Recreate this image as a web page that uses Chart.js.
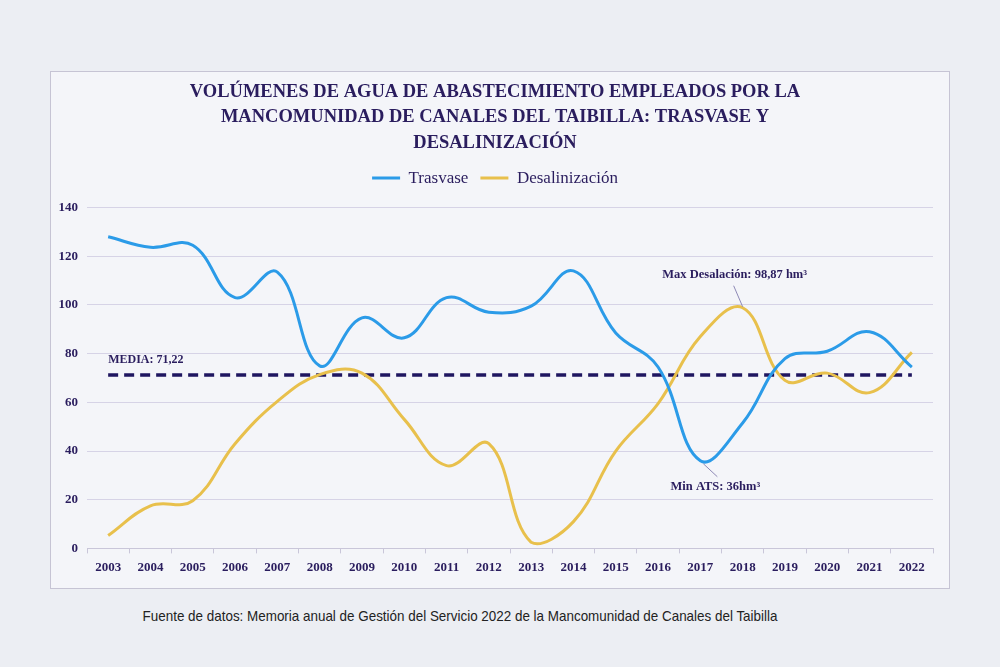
<!DOCTYPE html>
<html>
<head>
<meta charset="utf-8">
<script src="https://cdn.jsdelivr.net/npm/chart.js@4"></script>
<style>
body { margin: 0; width: 1000px; height: 667px; background: #eceef3; position: relative; overflow: hidden; }
#frame { position: absolute; left: 50px; top: 71px; width: 900px; height: 518px; border: 1px solid #c6c4d4; background: #f4f5f9; box-sizing: border-box; }
#source { position: absolute; left: 0; width: 920px; top: 607px; text-align: center; font-family: "Liberation Sans Narrow", "Liberation Sans", sans-serif; font-size: 15px; color: #222; transform: scaleX(0.895); transform-origin: 460px 0; }
</style>
</head>
<body>
<div id="frame"><canvas id="waterChart"></canvas></div>
<div id="source">Fuente de datos: Memoria anual de Gestión del Servicio 2022 de la Mancomunidad de Canales del Taibilla</div>
<script>
const years = ['2003', '2004', '2005', '2006', '2007', '2008', '2009', '2010', '2011', '2012',
               '2013', '2014', '2015', '2016', '2017', '2018', '2019', '2020', '2021', '2022'];
const trasvase = [128, 123.7, 124.5, 103, 113.5, 75, 94.7, 86.5, 103, 97,
                  99.5, 114, 88.5, 74.5, 36, 51.5, 78, 81, 89, 74.5];
const desalinizacion = [5.3, 17.5, 19.6, 43, 60.4, 71.4, 72, 53, 34, 43,
                        2.5, 11, 40, 59.5, 87, 98.87, 69, 72, 64, 80.5];
const media = 71.22;
const yTicks = [0, 20, 40, 60, 80, 100, 120, 140];

const textColor = '#2a1d5e';
const serif = '"Liberation Serif", "DejaVu Serif", serif';

// extra room between legend and plot
const legendGap = {
    id: 'legendGap',
    beforeInit(chart) {
        const fit = chart.legend.fit;
        chart.legend.fit = function () {
            fit.call(this);
            this.height += 11;
        };
    }
};

const notes = {
    id: 'notes',
    afterDatasetsDraw(chart) {
        const ctx = chart.ctx;
        const xs = chart.scales.x, ys = chart.scales.y;
        ctx.save();
        ctx.fillStyle = textColor;
        ctx.textBaseline = 'middle';

        // media label
        ctx.font = 'bold 12px ' + serif;
        ctx.textAlign = 'left';
        ctx.fillText('MEDIA: 71,22', xs.getPixelForValue(0), ys.getPixelForValue(media) - 15);

        ctx.font = 'bold 12.5px ' + serif;
        ctx.textAlign = 'center';
        ctx.strokeStyle = '#8d88b5';
        ctx.lineWidth = 1;

        // max desalinizacion
        let i = years.indexOf('2018');
        let px = xs.getPixelForValue(i), py = ys.getPixelForValue(desalinizacion[i]);
        ctx.beginPath();
        ctx.moveTo(px - 9, py - 22);
        ctx.lineTo(px, py - 1);
        ctx.stroke();
        ctx.fillText('Max Desalación: 98,87 hm³', px - 8, py - 33);

        // min trasvase
        i = years.indexOf('2017');
        px = xs.getPixelForValue(i); py = ys.getPixelForValue(trasvase[i]);
        ctx.beginPath();
        ctx.moveTo(px + 3, py + 3);
        ctx.lineTo(px + 17, py + 16);
        ctx.stroke();
        ctx.fillText('Min ATS: 36hm³', px + 15, py + 26);
        ctx.restore();
    }
};

const ctx = document.getElementById('waterChart').getContext('2d');
const waterChart = new Chart(ctx, {
    type: 'line',
    data: {
        labels: years,
        datasets: [{
            label: 'Trasvase',
            data: trasvase,
            borderColor: '#2b9be8',
            backgroundColor: '#2b9be8',
            borderWidth: 3,
            pointRadius: 0,
            tension: 0.4
        }, {
            label: 'Desalinización',
            data: desalinizacion,
            borderColor: '#e8c04c',
            backgroundColor: '#e8c04c',
            borderWidth: 3,
            pointRadius: 0,
            tension: 0.4
        }, {
            label: 'Media',
            data: years.map(() => media),
            borderColor: '#1f1660',
            borderWidth: 3.5,
            borderDash: [10, 6],
            pointRadius: 0,
            tension: 0
        }]
    },
    options: {
        responsive: true,
        maintainAspectRatio: false,
        animation: false,
        layout: {
            padding: { left: 6, right: 16, top: 4, bottom: 7 }
        },
        plugins: {
            title: {
                display: true,
                text: ['VOLÚMENES DE AGUA DE ABASTECIMIENTO EMPLEADOS POR LA',
                       'MANCOMUNIDAD DE CANALES DEL TAIBILLA: TRASVASE Y',
                       'DESALINIZACIÓN'],
                color: textColor,
                font: { family: serif, size: 18.5, weight: 'bold', lineHeight: 1.38 },
                padding: { top: 3, bottom: 2 }
            },
            legend: {
                position: 'top',
                labels: {
                    color: textColor,
                    font: { family: serif, size: 17 },
                    boxWidth: 28,
                    boxHeight: 3,
                    padding: 12,
                    filter: item => item.text !== 'Media',
                    generateLabels: chart => Chart.defaults.plugins.legend.labels.generateLabels(chart)
                        .map(l => Object.assign(l, { lineWidth: 0 }))
                }
            },
            tooltip: { enabled: false }
        },
        scales: {
            x: {
                offset: true,
                grid: { offset: true, drawOnChartArea: false, drawTicks: true, tickLength: 5, color: '#c9c6d9' },
                border: { display: true, color: '#c9c6d9' },
                ticks: { color: textColor, font: { family: serif, size: 13, weight: 'bold' }, padding: 6, maxRotation: 0 }
            },
            y: {
                min: 0,
                max: 140,
                afterBuildTicks: axis => { axis.ticks = yTicks.map(v => ({ value: v })); },
                afterFit: axis => { axis.width = 30; },
                grid: { color: '#d6d3e6', drawTicks: false },
                border: { display: false },
                ticks: { color: textColor, font: { family: serif, size: 13, weight: 'bold' }, padding: 9 }
            }
        }
    },
    plugins: [legendGap, notes]
});
</script>
</body>
</html>
